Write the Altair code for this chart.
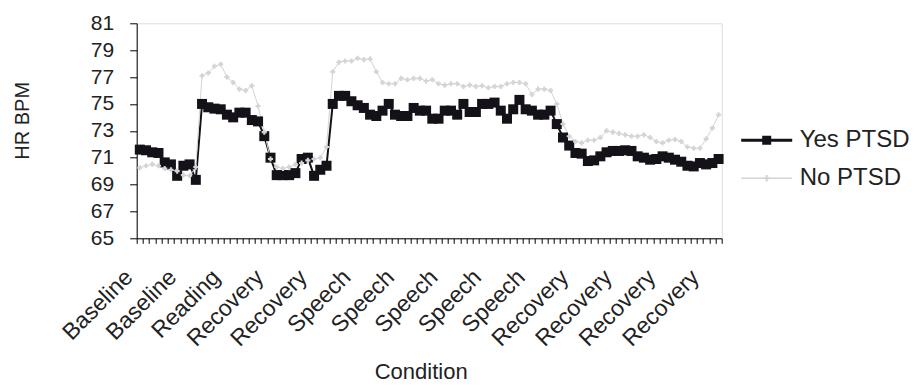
import json
import altair as alt
import pandas as pd

# ---------------- data ----------------
category_labels = ["Baseline", "Baseline", "Reading", "Recovery", "Recovery",
                   "Speech", "Speech", "Speech", "Speech", "Speech",
                   "Recovery", "Recovery", "Recovery", "Recovery"]
label_every = 7
series_names = ["Yes PTSD", "No PTSD"]

yes_ptsd = [71.6, 71.55, 71.4, 71.35, 70.65, 70.5, 69.65, 70.4, 70.5, 69.35,
            75.0, 74.75, 74.65, 74.6, 74.2, 74.0, 74.35, 74.35, 73.8, 73.7,
            72.6, 71.0, 69.7, 69.7, 69.7, 69.85, 70.9, 71.0, 69.65, 70.1,
            70.4, 75.0, 75.6, 75.6, 75.2, 74.9, 74.7, 74.2, 74.1, 74.5,
            75.0, 74.2, 74.1, 74.1, 74.7, 74.5, 74.5, 73.9, 73.9, 74.5,
            74.5, 74.2, 75.0, 74.4, 74.4, 75.0, 75.0, 75.1, 74.5, 73.9,
            74.6, 75.3, 74.6, 74.5, 74.2, 74.2, 74.5, 73.5, 72.5, 71.9,
            71.35, 71.3, 70.75, 70.8, 71.1, 71.4, 71.5, 71.5, 71.55, 71.5,
            71.1, 71.0, 70.85, 70.9, 71.1, 71.0, 70.85, 70.7, 70.4, 70.35,
            70.6, 70.5, 70.6, 70.9]

no_ptsd = [70.25, 70.4, 70.5, 70.4, 70.2, 70.1, 70.0, 69.7, 69.65, 70.3,
           77.1, 77.3, 77.8, 77.95, 77.0, 76.6, 76.1, 76.0, 76.35, 74.85,
           72.9, 70.9, 70.3, 70.2, 70.3, 70.5, 70.6, 70.8, 70.9, 71.0,
           71.8, 77.4, 78.1, 78.2, 78.2, 78.4, 78.3, 78.35, 77.4, 76.6,
           76.5, 76.5, 76.9, 76.8, 76.9, 76.9, 76.7, 76.8, 76.5, 76.4,
           76.5, 76.5, 76.3, 76.4, 76.3, 76.35, 76.2, 76.3, 76.3, 76.5,
           76.6, 76.6, 76.5, 75.7, 76.1, 76.1, 76.0, 75.0, 73.5, 72.6,
           72.2, 72.1, 72.3, 72.3, 72.5, 73.0, 72.9, 72.8, 72.7, 72.6,
           72.6, 72.7, 72.5, 72.2, 72.1, 72.3, 72.35, 72.2, 71.8, 71.7,
           71.7, 72.4, 73.2, 74.2]

y_ticks = list(range(65, 82, 2))

n = len(yes_ptsd)
rows = []
for name, vals in zip(series_names, [yes_ptsd, no_ptsd]):
    for i, v in enumerate(vals):
        rows.append({"idx": i + 0.5, "hr": v, "series": name})
df = pd.DataFrame(rows)

FONT = "Liberation Sans"
TXT = "#222222"
colors = ["#141118", "#d4d4d4"]

label_js = json.dumps(category_labels)
label_expr = (f"(datum.value % {label_every} == 0 && datum.value < {n}) ? "
              f"{label_js}[datum.value / {label_every}] : ''")

x_enc = alt.X("idx:Q",
              scale=alt.Scale(domain=[0, n], nice=False, zero=False),
              axis=alt.Axis(values=list(range(0, n + 1)), labelExpr=label_expr,
                            labelAngle=-45, labelAlign="right", labelBaseline="middle",
                            labelOffset=-8, labelPadding=30,
                            labelOverlap=False, labelFlush=False, labelBound=False,
                            labelFontSize=23, labelFont=FONT, labelColor=TXT,
                            tickSize=5, tickColor="#000000", domainColor="#000000",
                            grid=False, title="Condition", titleFont=FONT,
                            titleFontSize=22, titleFontWeight="normal", titleColor=TXT,
                            titleX=284, titleY=140, titleAlign="center",
                            titleBaseline="alphabetic"))
y_enc = alt.Y("hr:Q",
              scale=alt.Scale(domain=[65, 81], nice=False, zero=False),
              axis=alt.Axis(values=y_ticks, labelFontSize=21, labelFont=FONT,
                            labelColor=TXT, labelPadding=16, tickSize=7,
                            tickColor="#000000", domainColor="#000000", grid=False,
                            title="HR BPM", titleFont=FONT, titleFontSize=20,
                            titleFontWeight="normal", titleColor=TXT, titleAngle=270,
                            titleX=-114, titleY=97, titleAlign="center",
                            titleBaseline="middle"))

yes_sym = ("M-1.7,-0.1L1.7,-0.1L1.7,0.1L-1.7,0.1Z "
           "M-0.3,-0.3L0.3,-0.3L0.3,0.3L-0.3,0.3Z")
no_sym = ("M-1.7,-0.05L1.7,-0.05L1.7,0.05L-1.7,0.05Z "
          "M-0.22,-0.07L0.22,-0.07L0.22,0.07L-0.22,0.07Z "
          "M-0.07,-0.22L0.07,-0.22L0.07,0.22L-0.07,0.22Z")

color_scale = alt.Scale(domain=series_names, range=colors)

legend_props = dict(orient="none", legendX=615, legendY=102, title=None,
                    symbolSize=900, labelOffset=18, labelFontSize=24,
                    labelFont=FONT, labelColor=TXT, rowPadding=11, padding=0,
                    symbolStrokeWidth=0)

base = alt.Chart(df)

lines = base.mark_line(interpolate="linear").encode(
    x=x_enc, y=y_enc,
    color=alt.Color("series:N", scale=color_scale, legend=None),
    size=alt.Size("series:N", scale=alt.Scale(domain=series_names, range=[2, 1]),
                  legend=None),
    detail="series:N",
)

points = base.mark_point(filled=True, opacity=1).encode(
    x=x_enc, y=y_enc,
    color=alt.Color("series:N", scale=color_scale, legend=None),
    shape=alt.Shape("series:N", scale=alt.Scale(domain=series_names,
                                                range=["square", "cross"]),
                    legend=None),
    size=alt.Size("series:N", scale=alt.Scale(domain=series_names, range=[100, 26]),
                  legend=None),
)

legend_layer = base.mark_point(filled=True, opacity=1).encode(
    x=x_enc, y=y_enc,
    color=alt.Color("series:N", scale=color_scale, legend=alt.Legend(**legend_props)),
    shape=alt.Shape("series:N", scale=alt.Scale(domain=series_names,
                                                range=[yes_sym, no_sym]),
                    legend=alt.Legend(**legend_props)),
).transform_filter("false")

chart = alt.layer(lines, points, legend_layer).resolve_scale(
    size="independent", shape="independent", color="independent"
).properties(
    width=585, height=215,
    autosize=alt.AutoSizeParams(type="none"),
    padding={"left": 128.7, "top": 15.3, "right": 191.3, "bottom": 144.7},
).configure_view(stroke="#8a8a8a", strokeWidth=1.2).configure(background="white")

chart.save("out.html", embed_options={"renderer": "svg", "actions": False})
